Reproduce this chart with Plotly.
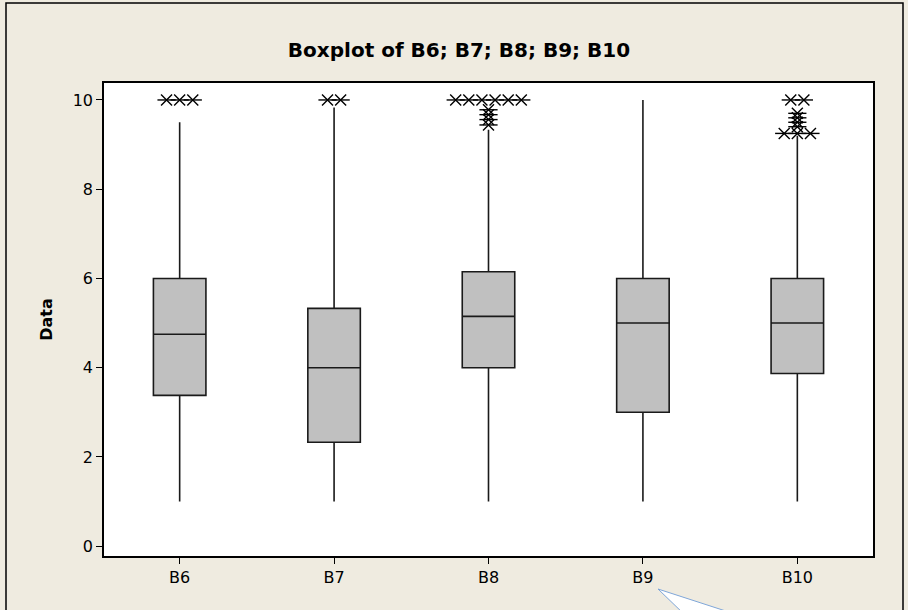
import plotly.graph_objects as go

# ---- data ----
categories = ["B6", "B7", "B8", "B9", "B10"]
q1 = [3.38, 2.33, 4.0, 3.0, 3.87]
median = [4.75, 4.0, 5.15, 5.0, 5.0]
q3 = [6.0, 5.33, 6.15, 6.0, 6.0]
lower_whisker = [1.0, 1.0, 1.0, 1.0, 1.0]
upper_whisker = [9.5, 9.83, 9.33, 10.0, 9.2]

# outliers: (category index, value, count of tied points)
outlier_cat = [0, 1, 2, 2, 2, 2, 2, 4, 4, 4, 4, 4, 4]
outlier_val = [10.0, 10.0, 10.0, 9.78, 9.67, 9.56, 9.44, 10.0, 9.7, 9.6, 9.5, 9.4, 9.25]
outlier_cnt = [3, 2, 6, 1, 1, 1, 1, 2, 1, 1, 1, 1, 3]

# ---- layout constants ----
W, H = 908, 610
L, R, T, B = 104, 35, 83, 54
pw, ph = W - L - R, H - T - B
tie_step = 0.085  # horizontal spacing of tied outliers (category units)

fig = go.Figure()

xs = list(range(len(categories)))
fig.add_trace(go.Box(
    x=xs, q1=q1, median=median, q3=q3,
    lowerfence=lower_whisker, upperfence=upper_whisker,
    width=0.34, whiskerwidth=0, fillcolor="#C0C0C0",
    line=dict(color="#1a1a1a", width=1.6),
    boxpoints=False, showlegend=False, hoverinfo="skip",
))

ox, oy = [], []
for c, v, n in zip(outlier_cat, outlier_val, outlier_cnt):
    for k in range(n):
        ox.append(c + (k - (n - 1) / 2) * tie_step)
        oy.append(v)

for sym in ["x-thin-open", "line-ew-open"]:
    fig.add_trace(go.Scatter(
        x=ox, y=oy, mode="markers", showlegend=False, hoverinfo="skip",
        marker=dict(symbol=sym, size=13 if sym == "line-ew-open" else 11,
                    color="black", line=dict(color="black", width=1.4)),
    ))

def px2paper(x, y):
    return (x - L) / pw, (H - B - y) / ph

# outer frame
fx0, fy0 = px2paper(6, 3)
fx1, fy1 = px2paper(903, 640)
fig.add_shape(type="rect", xref="paper", yref="paper",
              x0=fx0, x1=fx1, y0=fy1, y1=fy0,
              line=dict(color="black", width=1.5), fillcolor="rgba(0,0,0,0)", layer="below")

# callout pointer
ax_, ay_ = px2paper(658, 589)
bx_, by_ = px2paper(685, 615)
cx_, cy_ = px2paper(738, 615)
fig.add_shape(type="path", xref="paper", yref="paper",
              path=f"M {bx_} {by_} L {ax_} {ay_} L {cx_} {cy_} Z",
              line=dict(color="#7FA6D8", width=1), fillcolor="white")

font_family = "DejaVu Sans"
fig.update_layout(
    width=W, height=H,
    margin=dict(l=L, r=R, t=T, b=B),
    paper_bgcolor="#EFEBE0", plot_bgcolor="white",
    title=dict(text="<b>Boxplot of B6; B7; B8; B9; B10</b>",
               x=459 / W, xref="container", xanchor="center",
               y=1 - 50 / H, yref="container", yanchor="middle",
               font=dict(family=font_family, size=20, color="black")),
    font=dict(family=font_family, size=16, color="black"),
    xaxis=dict(range=[-0.49, 4.49], tickvals=xs, ticktext=categories,
               showgrid=False, zeroline=False, showline=True, mirror=True,
               linecolor="black", linewidth=1.5, ticks="outside", ticklen=6,
               tickcolor="black", tickfont=dict(size=16)),
    yaxis=dict(range=[-0.22, 10.38], tickvals=[0, 2, 4, 6, 8, 10],
               showgrid=False, zeroline=False, showline=True, mirror=True,
               linecolor="black", linewidth=1.5, ticks="outside", ticklen=6,
               tickcolor="black", tickfont=dict(size=16),
               title=dict(text="<b>Data</b>", standoff=16,
                          font=dict(size=16, family=font_family))),
)

fig.write_html("out.html", config={"displayModeBar": False},
               post_script="document.body.style.margin='0px';")
